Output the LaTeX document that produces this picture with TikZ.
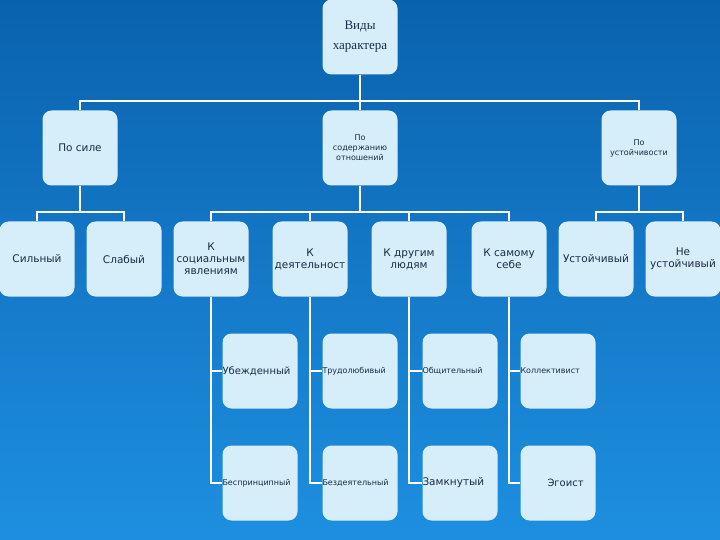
\documentclass[tikz,border=0pt]{standalone}
\usepackage{fontspec}
\setmainfont{DejaVu Sans}
\newfontfamily\rootfont{Liberation Serif}
\usetikzlibrary{positioning}
\definecolor{bgtop}{HTML}{0A62AE}
\definecolor{bgbot}{HTML}{1E8FE0}
\definecolor{boxfill}{HTML}{D6EEFA}
\definecolor{boxtext}{HTML}{1B2B45}
\tikzset{
  box/.style={draw=none, fill=boxfill, rounded corners=9pt, minimum width=75pt, minimum height=75pt,
    align=center, text=boxtext, font=\fontsize{10.5}{12}\selectfont, inner sep=0pt},
  smallbox/.style={box, font=\fontsize{8}{10}\selectfont},
  leaf/.style={anchor=west, text=boxtext, inner sep=0pt, font=\fontsize{8}{10}\selectfont},
  link/.style={white, line width=2pt}
}
\begin{document}
\begin{tikzpicture}[x=1pt, y=-1pt]
        \shade[top color=bgtop, bottom color=bgbot] (0,0) rectangle (720,540);
        \useasboundingbox (0,0) rectangle (720,540);
        % Nodes
        \node (root) at (360,37) [box, font=\rootfont\fontsize{13}{20}\selectfont] {Виды\\характера};
        \node (sila) at (80,148) [box] {По силе};
        \node (sod) at (360,148) [smallbox] {По\\содержанию\\отношений};
        \node (ust) at (639,148) [smallbox] {По\\устойчивости};
        \node (n1) at (37,259) [box] {Сильный};
        \node (n2) at (124,259) [box] {Слабый};
        \node (n3) at (211,259) [box] {К\\социальным\\явлениям};
        \node (n4) at (310,259) [box] {К\\деятельност};
        \node (n5) at (409,259) [box] {К другим\\людям};
        \node (n6) at (509,259) [box] {К самому\\себе};
        \node (n7) at (596,259) [box] {Устойчивый};
        \node (n8) at (683,259) [box] {Не\\устойчивый};
        % Lower nodes
        \node (a1) at (260,371) [box] {};
        \node (a2) at (360,371) [box] {};
        \node (a3) at (460,371) [box] {};
        \node (a4) at (558,371) [box] {};
        \node (b1) at (260,483) [box] {};
        \node (b2) at (360,483) [box] {};
        \node (b3) at (460,483) [box] {};
        \node (b4) at (558,483) [box] {};
        \node[leaf, font=\fontsize{10}{12}\selectfont] at (a1.west) {Убежденный};
        \node[leaf] at (a2.west) {Трудолюбивый};
        \node[leaf] at (a3.west) {Общительный};
        \node[leaf] at (a4.west) {Коллективист};
        \node[leaf] at (b1.west) {Беспринципный};
        \node[leaf] at (b2.west) {Бездеятельный};
        \node[leaf, font=\fontsize{10.5}{12}\selectfont] at (b3.west) {Замкнутый};
        \node[leaf, font=\fontsize{10}{12}\selectfont, xshift=27pt] at (b4.west) {Эгоист};
        % Edges
        \foreach \t in {sila,sod,ust} {
            \draw[link] (root.south) |- (360,101) -| (\t.north);
        }
        \foreach \t in {n1,n2} {
            \draw[link] (sila.south) |- (80,212) -| (\t.north);
        }
        \foreach \t in {n3,n4,n5,n6} {
            \draw[link] (sod.south) |- (360,212) -| (\t.north);
        }
        \foreach \t in {n7,n8} {
            \draw[link] (ust.south) |- (639,212) -| (\t.north);
        }
        \foreach \i/\j in {3/1,4/2,5/3,6/4} {
            \draw[link] (n\i.south) |- (a\j.west);
            \draw[link] (n\i.south) |- (b\j.west);
        }
    \end{tikzpicture}
\end{document}
